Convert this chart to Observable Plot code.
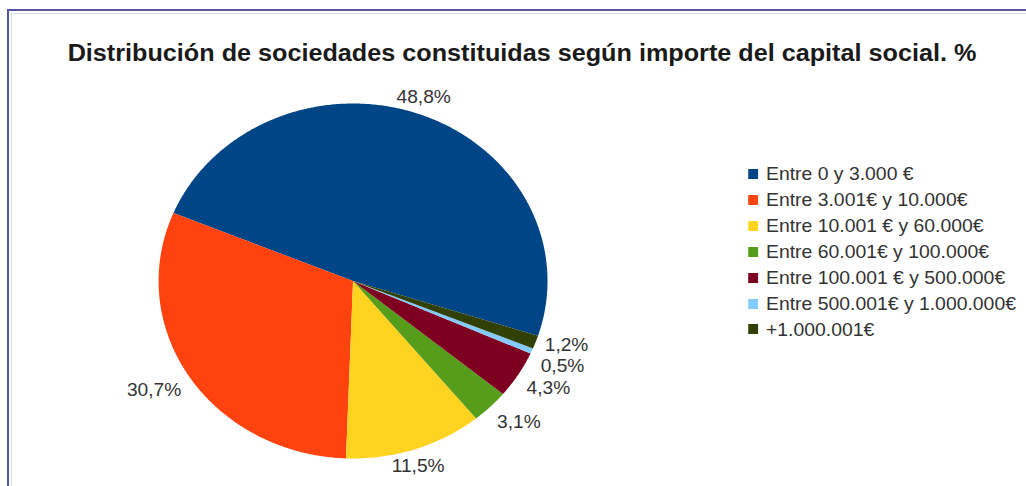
<!DOCTYPE html>
<html>
<head>
<meta charset="utf-8">
<script src="https://cdn.jsdelivr.net/npm/d3@7"></script>
<script src="https://cdn.jsdelivr.net/npm/@observablehq/plot@0.6"></script>
<style>
  html, body { margin: 0; padding: 0; background: #fff; overflow: hidden; }
  body { width: 1026px; height: 486px; position: relative; font-family: "Liberation Sans", Arial, sans-serif; }
  #frameOuter { position: absolute; left: 7px; top: 9px; width: 1100px; height: 600px;
    border-left: 2px solid #5656a6; border-top: 2px solid #5656a6; }
  #frameInner { position: absolute; left: 11px; top: 13px; width: 1100px; height: 600px;
    border-left: 1px solid #cfe5f3; border-top: 1px solid #cfe5f3; }
  #stage { position: absolute; left: 0; top: 0; height: 486px; transform-origin: 0 0; }
  #title { position: absolute; left: 0; top: 39px; text-align: center; font-weight: bold;
    font-size: 23px; line-height: 28px; color: #1a1a1a; white-space: nowrap; }
  .lg-row { position: absolute; font-size: 17.7px; line-height: 26px; color: #333; white-space: nowrap; }
  .lg-sw { position: absolute; width: 9.2px; height: 10px; }
  svg text { font-family: "Liberation Sans", Arial, sans-serif; }
</style>
</head>
<body>
<div id="frameOuter"></div>
<div id="frameInner"></div>
<div id="stage"></div>
<script>
// ---- data ----
const title = "Distribución de sociedades constituidas según importe del capital social. %";
const categories = [
  "Entre 0 y 3.000 €",
  "Entre 3.001€ y 10.000€",
  "Entre 10.001 € y 60.000€",
  "Entre 60.001€ y 100.000€",
  "Entre 100.001 € y 500.000€",
  "Entre 500.001€ y 1.000.000€",
  "+1.000.001€"
];
const values = [48.8, 30.7, 11.5, 3.1, 4.3, 0.5, 1.2];
const palette = ["#004586", "#ff420e", "#ffd320", "#579d1c", "#7e0021", "#83caff", "#314004"];

// ---- layout ----
const S = 1.0955;                 // horizontal stretch of the reference rendering
const W = Math.round(1026 / S);   // unstretched width
const cxPx = 352.5 / S, R = 177.5, cyTop = 103, cyBot = 458;
const startDeg = -18;             // first slice starts below the right horizontal, runs counter-clockwise
const labelSize = 17.5;

const total = d3.sum(values);
const slices = [];
let a = startDeg;
values.forEach((v, i) => {
  const a0 = a, a1 = a + v / total * 360;
  slices.push({cat: categories[i], v, a0, a1});
  a = a1;
});

// polygon points for each wedge (data units, unit circle)
const rad = d => d * Math.PI / 180;
const slicePts = [];
for (const s of slices) {
  slicePts.push({cat: s.cat, x: 0, y: 0});
  const n = Math.max(2, Math.ceil((s.a1 - s.a0) / 0.5));
  for (let k = 0; k <= n; k++) {
    const t = rad(s.a0 + (s.a1 - s.a0) * k / n);
    slicePts.push({cat: s.cat, x: Math.cos(t), y: Math.sin(t)});
  }
  slicePts.push({cat: s.cat, x: 0, y: 0});
}

// labels outside the pie: the text box touches a point just outside the rim
const ctx = document.createElement("canvas").getContext("2d");
ctx.font = `${labelSize}px "Liberation Sans", Arial, sans-serif`;
const fmt = v => v.toFixed(1).replace(".", ",") + "%";
const labelPts = slices.map(s => {
  const m = rad((s.a0 + s.a1) / 2);
  const c = Math.cos(m), sn = Math.sin(m);
  const text = fmt(s.v);
  const hw = ctx.measureText(text).width / 2, hh = 9;
  const dx = Math.abs(c) > 0.5 ? Math.sign(c) * hw : 0;
  const dy = Math.abs(sn) > 0.5 ? Math.sign(sn) * hh : 0;
  return {text, x: c * 1.05 + dx / R, y: sn * 1.05 + dy / R, side: c >= 0 ? 1 : -1};
});
// push apart crowded labels on the right side (min vertical gap ~21.5px)
const gap = 21.5 / R;
const right = labelPts.filter(d => d.side > 0).sort((p, q) => q.y - p.y);
for (let i = 1; i < right.length; i++) {
  if (right[i - 1].y - right[i].y < gap) right[i].y = right[i - 1].y - gap;
}

const chart = Plot.plot({
  width: W,
  height: 486,
  marginLeft: cxPx - R,
  marginRight: W - (cxPx + R),
  marginTop: cyTop,
  marginBottom: 486 - cyBot,
  x: {domain: [-1, 1], axis: null},
  y: {domain: [-1, 1], axis: null},
  color: {domain: categories, range: palette},
  style: {fontFamily: "'Liberation Sans', Arial, sans-serif", background: "transparent", overflow: "visible"},
  marks: [
    Plot.line(slicePts, {x: "x", y: "y", z: "cat", fill: "cat", stroke: "none", curve: "linear"}),
    Plot.text(labelPts, {x: "x", y: "y", text: "text", fontSize: labelSize, fill: "#333", textAnchor: "middle", lineAnchor: "middle"})
  ]
});

const stage = document.getElementById("stage");
stage.style.width = W + "px";
stage.style.transform = `scaleX(${S})`;
stage.appendChild(chart);

// title
const t = document.createElement("div");
t.id = "title";
t.style.width = (2 * 522 / S) + "px";
t.textContent = title;
stage.appendChild(t);

// legend
const color = chart.scale("color");
categories.forEach((c, i) => {
  const top = 161.2 + i * 25.9;
  const sw = document.createElement("div");
  sw.className = "lg-sw";
  sw.style.left = (748 / S) + "px";
  sw.style.top = (top + 7.8) + "px";
  sw.style.background = color.apply(c);
  stage.appendChild(sw);
  const row = document.createElement("div");
  row.className = "lg-row";
  row.style.left = (766 / S) + "px";
  row.style.top = top + "px";
  row.textContent = c;
  stage.appendChild(row);
});
</script>
</body>
</html>
